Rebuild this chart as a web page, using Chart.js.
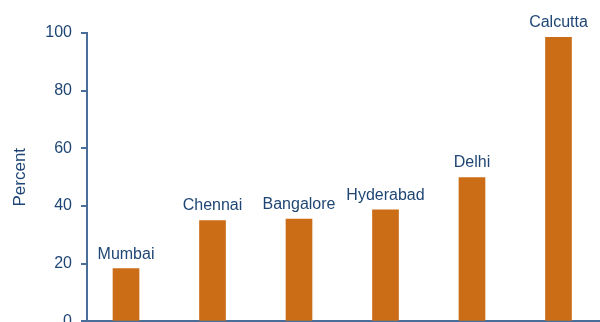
<!DOCTYPE html>
<html>
<head>
<meta charset="utf-8">
<script src="https://cdn.jsdelivr.net/npm/chart.js@4"></script>
<style>
	html, body { margin: 0; padding: 0; overflow: hidden; background: #fff; }
	#wrap { width: 600px; height: 340px; position: relative; }
</style>
</head>
<body>
<div id="wrap"><canvas id="myChart"></canvas></div>
<script>
const cities = ['Mumbai', 'Chennai', 'Bangalore', 'Hyderabad', 'Delhi', 'Calcutta']
const percentValues = [18.3, 35.0, 35.5, 38.7, 49.9, 98.5]
const yTicks = [0, 20, 40, 60, 80, 100]

const textColor = '#1e4574'
const axisColor = '#4a6e9a'
const barColor = '#cb6d17'

function main() {
	const points = cities.map((city, i) => ({ x: i, y: percentValues[i] }))

	const cityLabels = {
		id: 'cityLabels',
		afterDatasetsDraw(chart) {
			const ctx = chart.ctx
			const meta = chart.getDatasetMeta(0)
			ctx.save()
			ctx.fillStyle = textColor
			ctx.font = '16px "Liberation Sans", Arial, sans-serif'
			ctx.textAlign = 'center'
			ctx.textBaseline = 'alphabetic'
			meta.data.forEach((bar, i) => {
				ctx.fillText(cities[i], bar.x, bar.y - 10)
			})
			ctx.restore()
		}
	}

	new Chart(document.getElementById('myChart'), {
		type: 'bar',
		data: {
			datasets: [{
				data: points,
				backgroundColor: barColor,
				borderWidth: 0,
				barThickness: 26
			}]
		},
		plugins: [cityLabels],
		options: {
			responsive: true,
			maintainAspectRatio: false,
			animation: false,
			layout: { padding: { top: 33, right: 0, bottom: 0, left: 0 } },
			plugins: {
				legend: { display: false },
				tooltip: { enabled: false }
			},
			scales: {
				x: {
					type: 'linear',
					offset: false,
					min: -0.451,
					max: 5.48,
					grid: { display: false },
					ticks: { display: false },
					border: { display: true, color: axisColor, width: 2 }
				},
				y: {
					min: 0,
					max: 100,
					afterBuildTicks(scale) {
						scale.ticks = yTicks.map(v => ({ value: v }))
					},
					afterFit(scale) {
						scale.width = 87
					},
					title: {
						display: true,
						text: 'Percent',
						color: textColor,
						font: { family: '"Liberation Sans", Arial, sans-serif', size: 17 },
						padding: { top: 10, bottom: 4 }
					},
					ticks: {
						color: textColor,
						padding: 9,
						font: { family: '"Liberation Sans", Arial, sans-serif', size: 16 }
					},
					grid: {
						drawOnChartArea: false,
						drawTicks: true,
						tickLength: 6,
						color: axisColor,
						lineWidth: 2
					},
					border: { display: true, color: axisColor, width: 2 }
				}
			}
		}
	})
}

main()
</script>
</body>
</html>
